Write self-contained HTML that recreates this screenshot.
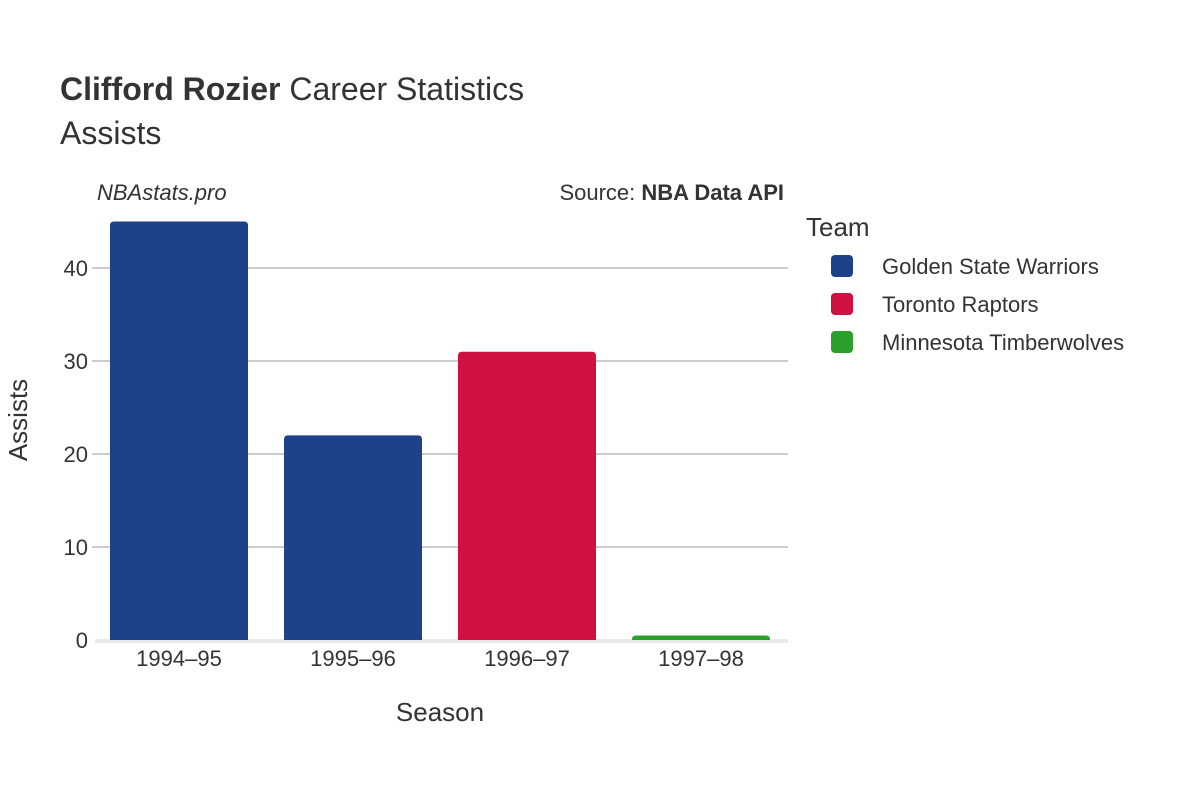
<!DOCTYPE html>
<html><head><meta charset="utf-8"><style>
body{margin:0;background:#fff;}
svg text{font-family:"Liberation Sans","DejaVu Sans",sans-serif;fill:#333;}
</style></head><body>
<svg id="chart" width="1200" height="800">
<text x="60" y="100" font-size="32"><tspan font-weight="bold">Clifford Rozier</tspan> Career Statistics</text>
<text x="60" y="144" font-size="32">Assists</text>
<text x="97" y="200" font-size="22" font-style="italic">NBAstats.pro</text>
<text x="784" y="200" font-size="22" text-anchor="end">Source: <tspan font-weight="bold">NBA Data API</tspan></text>
<g id="grid"></g>
<g id="bars"></g>
<g id="xticks"></g>
<text x="440" y="721" font-size="26" text-anchor="middle">Season</text>
<text transform="translate(27,420) rotate(-90)" font-size="26" text-anchor="middle">Assists</text>
<text x="806" y="236" font-size="26">Team</text>
<g id="legend"></g>
</svg>
<script>
const seasons=["1994–95","1995–96","1996–97","1997–98"];
const assists=[45,22,31,0];
const teams=["Golden State Warriors","Golden State Warriors","Toronto Raptors","Minnesota Timberwolves"];
const yTicks=[0,10,20,30,40];
const legendTeams=["Golden State Warriors","Toronto Raptors","Minnesota Timberwolves"];
const colors={"Golden State Warriors":"#1d428a","Toronto Raptors":"#ce1141","Minnesota Timberwolves":"#2ca02c"};
const NS="http://www.w3.org/2000/svg";
const x0=92,x1=788,y0=640,yPer=9.3;
const band=(x1-x0)/seasons.length;
const y=v=>y0-v*yPer;
const xc=i=>x0+band*(i+0.5);
function mk(t,a,p){const e=document.createElementNS(NS,t);for(const k in a)e.setAttribute(k,a[k]);p.appendChild(e);return e;}
const grid=document.getElementById('grid');
yTicks.forEach(v=>{
  if(v>0){const l=mk('line',{x1:x0,x2:x1,y1:y(v),y2:y(v),stroke:'#999','stroke-width':1},grid);
  
  }
  const t=mk('text',{x:88,y:y(v)+8,'font-size':22,'text-anchor':'end'},grid);t.textContent=v;
  
  
});
const zl=mk('rect',{x:95,y:y0-1,width:x1-95,height:4,fill:'#ebebeb'},grid);


const bars=document.getElementById('bars');
const bw=138;
assists.forEach((v,i)=>{
  const h=Math.max(v*yPer,0.5);
  const r=mk('path',{d:`M${xc(i)-bw/2},${y0} V${y0-h+(v>0?4:0)} q0,-4 4,-4 H${xc(i)+bw/2-4} q4,0 4,4 V${y0} Z`,fill:colors[teams[i]]},bars);
  
  
});
const xt=document.getElementById('xticks');
seasons.forEach((s,i)=>{const t=mk('text',{x:xc(i),y:666,'font-size':22,'text-anchor':'middle'},xt);t.textContent=s;
  
  });
const lg=document.getElementById('legend');
legendTeams.forEach((n,i)=>{const cy=266+i*38;
  const g=mk('g',{},lg);
  
  
  mk('rect',{x:831,y:cy-11,width:22,height:22,rx:4,fill:colors[n]},g);
  const t=mk('text',{x:882,y:cy+8,'font-size':22},g);t.textContent=n;});
</script>
</body></html>
